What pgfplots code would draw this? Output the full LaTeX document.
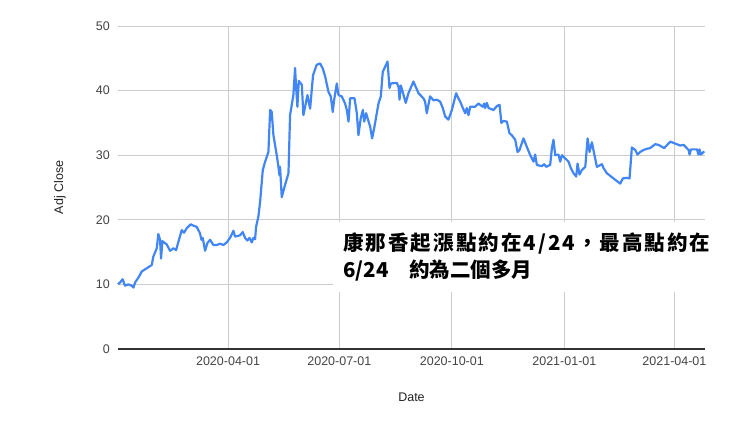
\documentclass[border=0pt]{standalone}
\usepackage{fontspec}
\setmainfont{Liberation Sans}
\newfontfamily\cjk{Noto Sans CJK TC}
\newfontfamily\cjkwide{Noto Sans CJK TC}[LetterSpace=10]
\usepackage{pgfplots}
\pgfplotsset{compat=1.18}

\definecolor{lineblue}{HTML}{4285F4}
\definecolor{gridgray}{HTML}{CCCCCC}
\definecolor{ticktext}{HTML}{444444}
\definecolor{titletext}{HTML}{222222}
\definecolor{baseaxis}{HTML}{333333}

% x = day number, day 0 = 2020-01-01
\pgfplotstableread{
d v
1.0 10.0
2.7 10.3
4.8 10.8
6.7 9.8
9.5 10.0
12.2 9.8
13.6 9.5
15.0 10.3
18.5 11.3
20.4 12.0
24.5 12.5
28.6 13.0
29.9 14.3
32.7 15.6
34.0 17.8
35.4 16.9
36.2 14.0
37.3 16.7
40.8 16.2
43.6 15.2
46.3 15.6
48.5 15.3
50.4 16.6
53.1 18.4
55.0 18.0
57.2 18.7
60.5 19.3
62.6 19.1
65.4 18.9
68.1 17.9
69.2 16.9
70.3 17.2
72.2 15.2
74.1 16.4
76.3 16.9
79.0 16.1
81.7 16.1
84.5 16.3
87.2 16.1
89.9 16.5
92.6 17.2
95.4 18.3
96.7 17.4
100.8 17.6
103.0 18.1
104.9 17.2
106.8 16.8
108.5 17.2
110.4 16.5
111.7 17.2
113.1 17.0
113.9 18.9
115.8 20.5
117.2 22.8
119.4 27.7
121.3 29.0
124.0 30.5
125.4 37.0
126.7 36.7
128.1 33.1
130.8 30.0
132.2 28.2
133.0 26.9
133.5 28.2
134.9 23.5
137.6 25.4
140.4 27.2
141.7 36.2
144.4 39.3
145.8 43.5
146.6 40.6
147.7 37.5
148.8 41.5
151.3 40.9
152.6 36.2
154.0 37.5
155.9 39.3
158.1 37.2
160.5 42.4
163.5 44.0
166.3 44.2
168.5 43.4
170.4 42.2
173.1 39.8
175.0 39.1
176.6 36.7
177.7 38.5
179.9 41.1
181.3 39.3
184.0 39.1
186.7 38.0
188.1 37.0
189.5 35.2
190.8 38.8
194.4 38.8
196.3 36.5
197.6 33.1
199.5 35.7
201.2 37.0
202.3 35.2
203.9 36.5
207.2 34.4
208.8 32.6
210.5 34.2
214.0 38.0
215.9 39.1
217.5 42.9
221.4 44.5
223.0 40.4
224.1 41.1
229.0 41.2
230.4 40.6
231.2 38.6
232.3 40.8
236.3 38.1
238.5 39.6
242.6 41.4
246.7 39.6
250.8 38.8
252.1 38.3
253.5 36.5
256.2 39.1
259.0 38.5
261.7 38.6
264.4 38.3
266.6 37.3
268.5 36.0
271.2 35.5
274.0 37.0
277.5 39.6
278.6 39.1
280.8 38.3
283.0 37.3
284.9 36.5
286.2 37.3
287.6 36.2
289.0 37.5
293.0 37.5
295.8 38.0
297.1 37.8
299.3 37.5
300.4 38.0
301.2 37.3
302.6 38.1
304.0 37.3
308.1 37.0
310.8 37.6
313.0 37.8
314.5 35.0
316.2 35.3
319.0 35.2
321.1 33.4
323.0 33.1
325.8 32.4
327.7 30.5
329.3 30.8
332.6 32.6
335.3 31.3
338.1 30.0
340.8 29.0
342.1 30.1
343.5 28.5
347.6 28.3
349.5 28.6
351.1 28.2
354.4 28.5
355.8 31.1
357.1 32.4
358.5 30.0
361.2 30.1
362.6 29.0
364.0 30.0
366.7 29.5
369.4 29.0
371.3 28.0
373.5 27.2
375.7 26.7
376.8 28.7
378.4 27.0
380.3 27.7
383.1 28.2
385.0 32.6
386.6 30.5
388.5 32.0
389.9 30.7
392.6 28.2
396.7 28.6
398.0 28.0
400.8 27.2
406.2 26.4
411.7 25.6
413.8 26.4
417.1 26.5
419.3 26.4
421.2 31.2
424.0 30.8
425.8 30.1
428.0 30.5
430.7 30.8
433.5 31.0
436.2 31.1
440.3 31.7
443.0 31.6
447.6 31.1
452.6 32.1
456.6 31.8
460.7 31.5
463.5 31.6
465.6 31.2
467.6 30.8
468.4 30.1
469.5 30.9
471.6 30.9
474.4 30.9
475.7 30.1
476.5 30.9
477.6 30.1
479.3 30.4
480.4 30.6
}\adjclose

\begin{document}
\begin{tikzpicture}
\path[use as bounding box] (-118bp,-73bp) rectangle (622bp,349bp);
\begin{axis}[
    at={(0,0)}, anchor=south west,
    width=587bp, height=323bp, scale only axis,
    xmin=1, xmax=481, ymin=0, ymax=50,
    axis line style={draw=none},
    major tick length=0pt,
    xtick={91,182,274,366,456},
    xticklabels={2020-04-01,2020-07-01,2020-10-01,2021-01-01,2021-04-01},
    ytick={0,10,20,30,40,50},
    grid=major,
    major grid style={draw=gridgray, line width=0.9bp},
    /pgf/number format/assume math mode=true,
    tick label style={font=\fontsize{12.5bp}{14bp}\selectfont, text=ticktext},
    xticklabel style={anchor=north, inner sep=0pt, yshift=-8bp},
    yticklabel style={anchor=east, inner sep=0pt, xshift=-8bp},
    xlabel={Date},
    ylabel={Adj Close},
    every axis x label/.style={at={(axis description cs:0.5,-0.149)}, anchor=center,
        font=\fontsize{12.5bp}{14bp}\selectfont, text=titletext},
    every axis y label/.style={at={(axis description cs:-0.0988,0.5)}, anchor=center, rotate=90,
        font=\fontsize{12.5bp}{14bp}\selectfont, text=titletext},
    clip=false,
]
\addplot[lineblue, line width=2.2bp, line join=round] table[x=d, y=v] {\adjclose};
\draw[baseaxis, line width=1.6bp] (rel axis cs:0,0) -- (rel axis cs:1,0);
\node[fill=white, anchor=north west, inner xsep=10bp, inner ysep=11bp, align=left,
      font={\bfseries\fontsize{20.5bp}{27bp}\selectfont}, text=black]
    at (axis cs:176.9,19.7) {{\cjkwide\bfseries 康那香起漲點約在4/24，最高點約在}\\{\cjk\bfseries 6/24　約為二個多月}};
\end{axis}
\end{tikzpicture}
\end{document}
